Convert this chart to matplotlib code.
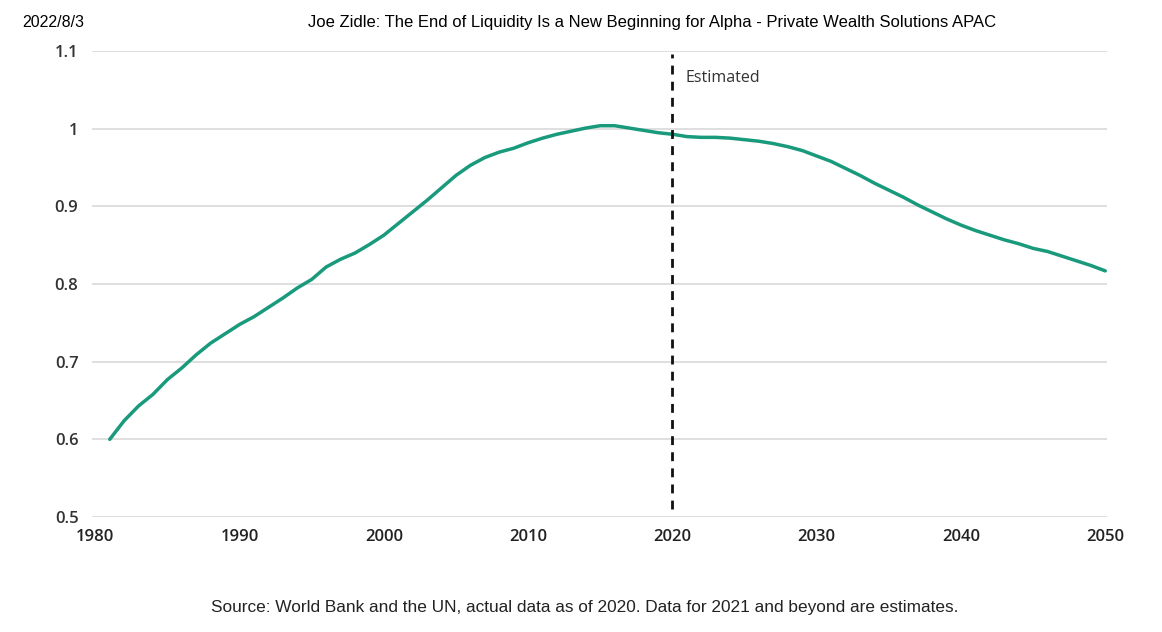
import matplotlib
matplotlib.use("Agg")
import matplotlib.pyplot as plt

# ratio index, actual to 2020, estimates afterwards
years = list(range(1981, 2051))
values = [
    0.600, 0.624, 0.643, 0.658, 0.677, 0.692, 0.709, 0.724, 0.736, 0.748,
    0.758, 0.770, 0.782, 0.795, 0.806, 0.822, 0.832, 0.840, 0.851, 0.863,
    0.878, 0.893, 0.908, 0.924, 0.940, 0.953, 0.963, 0.970, 0.975, 0.982,
    0.988, 0.993, 0.997, 1.001, 1.004, 1.004, 1.001, 0.998, 0.995, 0.993,
    0.990, 0.989, 0.989, 0.988, 0.986, 0.984, 0.981, 0.977, 0.972, 0.965,
    0.958, 0.949, 0.940, 0.930, 0.921, 0.912, 0.902, 0.893, 0.884, 0.876,
    0.869, 0.863, 0.857, 0.852, 0.846, 0.842, 0.836, 0.830, 0.824, 0.817,
]
x_ticks = [1980, 1990, 2000, 2010, 2020, 2030, 2040, 2050]
y_ticks = [0.5, 0.6, 0.7, 0.8, 0.9, 1.0, 1.1]
y_labels = ["0.5", "0.6", "0.7", "0.8", "0.9", "1", "1.1"]
split_year = 2020

header_date = "2022/8/3"
header_title = ("Joe Zidle: The End of Liquidity Is a New Beginning for Alpha "
                "- Private Wealth Solutions APAC")
source = ("Source: World Bank and the UN, actual data as of 2020. "
          "Data for 2021 and beyond are estimates.")

fig = plt.figure(figsize=(11.62, 6.32), dpi=100)
ax = fig.add_axes([0.0789, 0.182, 0.874, 0.737])

ax.plot(years, values, color="#1a9a7c", linewidth=2.5, solid_capstyle="round", zorder=3)
ax.vlines(split_year, 0.51, 1.096, colors="#111111", linestyles=(0, (3.2, 2.6)),
          linewidth=2.0, zorder=4)
ax.text(split_year + 0.9, 1.065, "Estimated", fontsize=11.5, color="#333333",
        family=["Open Sans", "DejaVu Sans"], va="center", ha="left")

ax.set_xlim(1979.75, 2050.14)
ax.set_ylim(0.5, 1.1)
ax.set_xticks(x_ticks)
ax.set_xticklabels([str(t) for t in x_ticks], fontsize=12, color="#222222",
                   fontweight="semibold", family=["Open Sans", "DejaVu Sans"])
ax.set_yticks(y_ticks)
ax.set_yticklabels(y_labels, fontsize=12, color="#333333", fontweight="semibold",
                   family=["Open Sans", "DejaVu Sans"])
ax.tick_params(axis="both", length=0)
ax.tick_params(axis="y", pad=9.5)
ax.tick_params(axis="x", pad=9)
ax.grid(axis="y", color="#dcdcdc", linewidth=1.3)
for s in ax.spines.values():
    s.set_visible(False)

fig.text(0.019, 0.965, header_date, fontsize=11.5, family=["Liberation Sans", "DejaVu Sans"],
         va="center", ha="left")
fig.text(0.561, 0.965, header_title, fontsize=12, family=["Liberation Sans", "DejaVu Sans"],
         va="center", ha="center")
fig.text(0.503, 0.039, source, fontsize=12.4, color="#222222",
         family=["Liberation Sans", "DejaVu Sans"],
         va="center", ha="center")

fig.savefig("out.png", dpi=100)
